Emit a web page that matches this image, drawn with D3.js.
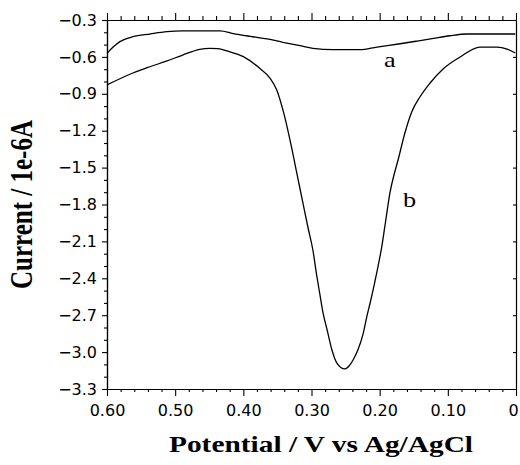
<!DOCTYPE html>
<html>
<head>
<meta charset="utf-8">
<script src="https://cdn.jsdelivr.net/npm/d3@7"></script>
<style>
  html, body { margin: 0; padding: 0; background: #fff; }
  svg { display: block; }
</style>
</head>
<body>
<svg id="chart" width="520" height="465"></svg>
<script>
// Potential (V vs Ag/AgCl) and current (1e-6 A)
const potA = [0.600, 0.591, 0.581, 0.562, 0.537, 0.512, 0.489, 0.434, 0.415, 0.390, 0.365, 0.342, 0.317, 0.298, 0.268, 0.229, 0.204, 0.170, 0.145, 0.121, 0.097, 0.072, 0.048, 0.001];
const curA = [-0.571, -0.520, -0.476, -0.436, -0.414, -0.395, -0.389, -0.389, -0.410, -0.433, -0.454, -0.481, -0.509, -0.530, -0.541, -0.541, -0.520, -0.493, -0.471, -0.449, -0.428, -0.414, -0.414, -0.414];

const potB = [0.600, 0.562, 0.537, 0.512, 0.489, 0.464, 0.449, 0.437, 0.424, 0.400, 0.376, 0.361, 0.351, 0.340, 0.330, 0.321, 0.312, 0.305, 0.298, 0.292, 0.288, 0.283, 0.277, 0.270, 0.263, 0.251, 0.245, 0.239, 0.232, 0.224, 0.219, 0.214, 0.208, 0.202, 0.197, 0.191, 0.185, 0.179, 0.173, 0.163, 0.153, 0.141, 0.126, 0.107, 0.082, 0.053, 0.028, 0.013, 0.001];
const curB = [-0.828, -0.731, -0.680, -0.633, -0.585, -0.538, -0.530, -0.532, -0.552, -0.598, -0.693, -0.772, -0.869, -1.072, -1.316, -1.560, -1.804, -1.991, -2.170, -2.389, -2.520, -2.683, -2.821, -2.983, -3.087, -3.137, -3.113, -3.064, -2.983, -2.845, -2.715, -2.601, -2.454, -2.292, -2.146, -1.926, -1.707, -1.560, -1.438, -1.219, -1.048, -0.926, -0.812, -0.698, -0.601, -0.520, -0.520, -0.536, -0.568];

const xMajor = [0.6, 0.5, 0.4, 0.3, 0.2, 0.1, 0];
const yMajor = [-0.3, -0.6, -0.9, -1.2, -1.5, -1.8, -2.1, -2.4, -2.7, -3.0, -3.3];
const curveLabels = [{ text: "a", pot: 0.185, cur: -0.682 }, { text: "b", pot: 0.156, cur: -1.820 }];

const LEFT = 107, RIGHT = 516, TOP = 20, BOTTOM = 389;

const svg = d3.select("#chart");

const x = d3.scaleLinear().domain([0.6, 0]).range([LEFT, RIGHT]);
const y = d3.scaleLinear().domain([-0.3, -3.3]).range([TOP, BOTTOM]);

// minor ticks: every 0.02 V on x, every 0.1 on y
const xMinor = d3.range(0, 31).map(i => +(i * 0.02).toFixed(2)).filter(v => !xMajor.some(m => Math.abs(m - v) < 1e-9));
const yMinor = d3.range(0, 31).map(i => +(-0.3 - i * 0.1).toFixed(1)).filter(v => !yMajor.some(m => Math.abs(m - v) < 1e-9));

function styleAxis(g) {
  g.select(".domain").attr("stroke", "#000").attr("stroke-width", 1.2);
  g.selectAll(".tick line").attr("stroke", "#000").attr("stroke-width", 1.1);
  g.selectAll(".tick text")
    .attr("fill", "#000")
    .style("font-family", "'DejaVu Sans', sans-serif")
    .style("font-size", "16px");
}

const fmtX = d => d === 0 ? "0" : d3.format(".2f")(d);

// bottom
svg.append("g").attr("transform", `translate(0,${BOTTOM})`)
  .call(d3.axisBottom(x).tickValues(xMajor).tickSizeInner(7).tickSizeOuter(0).tickPadding(9).tickFormat(fmtX))
  .call(styleAxis)
  .call(g => g.selectAll(".tick text").filter(d => d === 0).attr("dx", "-3"));
svg.append("g").attr("transform", `translate(0,${BOTTOM})`)
  .call(d3.axisBottom(x).tickValues(xMinor).tickSizeInner(3).tickSizeOuter(0).tickFormat(""))
  .call(styleAxis);

// top
svg.append("g").attr("transform", `translate(0,${TOP})`)
  .call(d3.axisTop(x).tickValues(xMajor).tickSizeInner(7).tickSizeOuter(0).tickFormat(""))
  .call(styleAxis);
svg.append("g").attr("transform", `translate(0,${TOP})`)
  .call(d3.axisTop(x).tickValues(xMinor).tickSizeInner(4).tickSizeOuter(0).tickFormat(""))
  .call(styleAxis);

// left
svg.append("g").attr("transform", `translate(${LEFT},0)`)
  .call(d3.axisLeft(y).tickValues(yMajor).tickSizeInner(5).tickSizeOuter(0).tickPadding(5).tickFormat(d3.format(".1f")))
  .call(styleAxis);
svg.append("g").attr("transform", `translate(${LEFT},0)`)
  .call(d3.axisLeft(y).tickValues(yMinor).tickSizeInner(3).tickSizeOuter(0).tickFormat(""))
  .call(styleAxis);

// right, ticks pointing inward
svg.append("g").attr("transform", `translate(${RIGHT},0)`)
  .call(d3.axisRight(y).tickValues(yMajor).tickSizeInner(-3).tickSizeOuter(0).tickFormat(""))
  .call(styleAxis);

// curves
const line = d3.line()
  .x(d => x(d[0]))
  .y(d => y(d[1]))
  .curve(d3.curveMonotoneX);

[[potA, curA], [potB, curB]].forEach(([p, c]) => {
  svg.append("path")
    .datum(p.map((v, i) => [v, c[i]]))
    .attr("d", line)
    .attr("fill", "none")
    .attr("stroke", "#000")
    .attr("stroke-width", 1.3);
});

// curve labels (the source is stretched horizontally, so stretch text too)
curveLabels.forEach(l => {
  svg.append("text")
    .attr("transform", `translate(${x(l.pot)},${y(l.cur)}) scale(1.25,1)`)
    .attr("text-anchor", "middle")
    .style("font-family", "'Liberation Serif', serif")
    .style("font-size", "21px")
    .text(l.text);
});

// axis titles
svg.append("text")
  .attr("transform", "translate(321,452) scale(1.25,1)")
  .attr("text-anchor", "middle")
  .style("font-family", "'Liberation Serif', serif")
  .style("font-weight", "bold")
  .style("font-size", "23.5px")
  .text("Potential / V vs Ag/AgCl");

svg.append("text")
  .attr("transform", `translate(32,${(TOP + BOTTOM) / 2}) scale(1.25,1) rotate(-90)`)
  .attr("text-anchor", "middle")
  .style("font-family", "'Liberation Serif', serif")
  .style("font-weight", "bold")
  .style("font-size", "25px")
  .text("Current / 1e-6A");
</script>
</body>
</html>
